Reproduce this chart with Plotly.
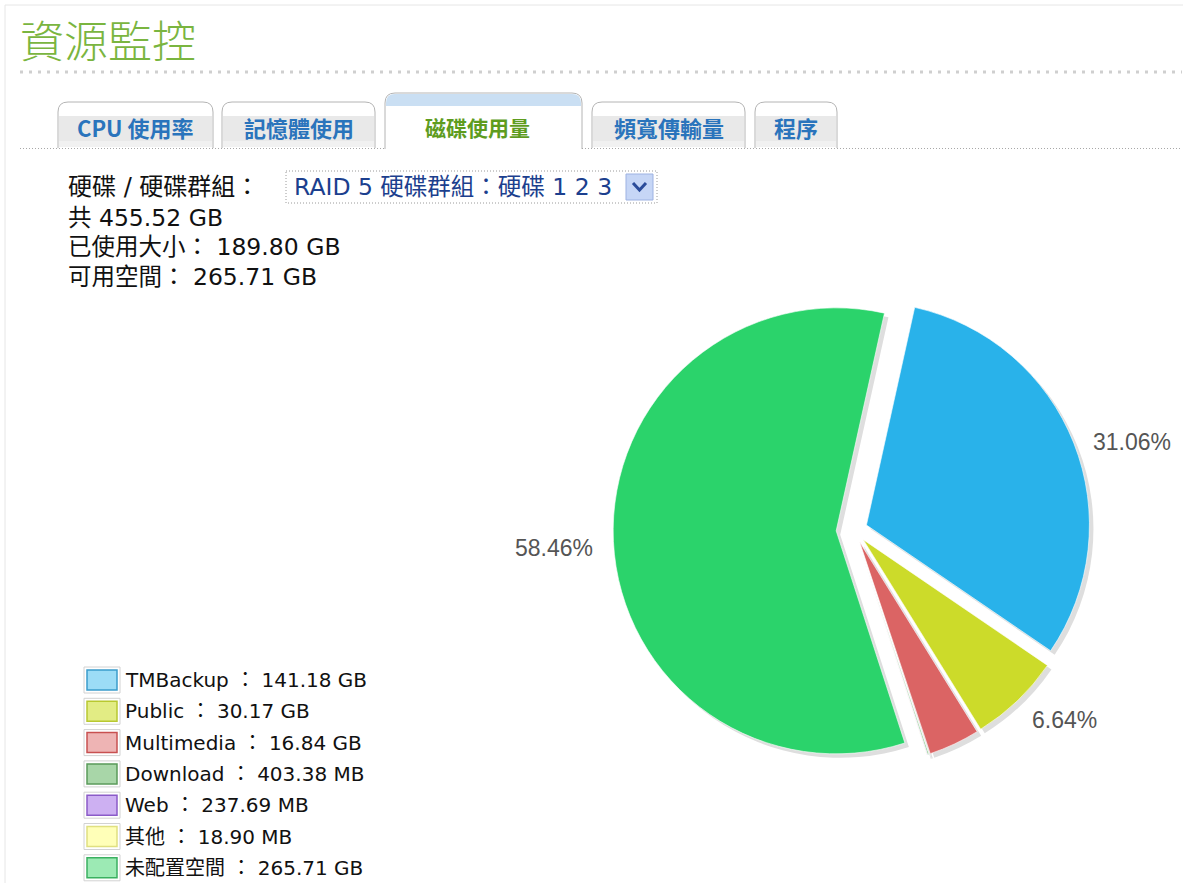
import math
import plotly.graph_objects as go

W, H = 1184, 884

# ---- data -------------------------------------------------------------
folders = ["TMBackup", "Public", "Multimedia", "Download", "Web", "其他", "未配置空間"]
sizes = [141.18, 30.17, 16.84, 403.38, 237.69, 18.90, 265.71]
units = ["GB", "GB", "GB", "MB", "MB", "MB", "GB"]

total_size = "455.52 GB"
used_size = "189.80 GB"
free_size = "265.71 GB"

tabs = ["CPU 使用率", "記憶體使用", "磁碟使用量", "頻寬傳輸量", "程序"]
active_tab = 2
volume_name = "RAID 5 硬碟群組：硬碟 1 2 3"

# ---- styles -----------------------------------------------------------
slice_colors = ["#29B2EA", "#CCDB2A", "#DB6464", "#5DBB5D", "#9B6BDB", "#F4F06A", "#2BD36B"]
swatch_fill = ["#9CDCF6", "#E2EC84", "#EEB4B4", "#A8D6A8", "#CDB0F2", "#FFFFB8", "#9CEAB4"]
swatch_edge = ["#3A9CCB", "#B8C830", "#C85050", "#5A9A5A", "#8A5AC8", "#E0E080", "#3AB060"]
pulls = [0.06, 0.06, 0.06, 0.06, 0.06, 0.06, 0.08]

BODY = "DejaVu Sans, Noto Sans CJK TC, sans-serif"
CJK = "Noto Sans CJK TC, sans-serif"


def px(x):
    return x / W


def py(y):
    return 1 - y / H


values_gb = [s / 1024 if u == "MB" else s for s, u in zip(sizes, units)]
total_gb = sum(values_gb)
shares = [v / total_gb for v in values_gb]

# pie placement (pixel centre / radius), clockwise from 12.5 deg
cx, cy, r = 854, 530, 223
start_deg = 12.5
half = r * (1 + max(pulls))
dom_x = [px(cx - half), px(cx + half)]
dom_y = [py(cy + half), py(cy - half)]
sh = 4  # drop-shadow offset

fig = go.Figure()

# soft grey drop shadow under the pie
fig.add_trace(go.Pie(
    values=values_gb, labels=folders, sort=False, direction="clockwise",
    rotation=start_deg, pull=pulls, textinfo="none", hoverinfo="skip",
    marker=dict(colors=["#DEDEDE"] * len(values_gb), line=dict(width=0)),
    domain=dict(x=[dom_x[0] + sh / W, dom_x[1] + sh / W],
                y=[dom_y[0] - sh / H, dom_y[1] - sh / H]),
    showlegend=False,
))

fig.add_trace(go.Pie(
    values=values_gb, labels=folders, sort=False, direction="clockwise",
    rotation=start_deg, pull=pulls, textinfo="none",
    hovertemplate="%{label}: %{percent:.2%}<extra></extra>",
    marker=dict(colors=slice_colors, line=dict(color="white", width=0.6)),
    domain=dict(x=dom_x, y=dom_y),
    showlegend=False,
))

shapes = []
annotations = []


def text(x, y, s, size=23, color="#111111", anchor="left", bold=False, family=BODY,
         weight=None, yshift=0):
    font = dict(family=family, size=size, color=color)
    if weight:
        font["weight"] = weight
    annotations.append(dict(
        x=px(x), y=py(y), xref="paper", yref="paper", text=f"<b>{s}</b>" if bold else s,
        showarrow=False, xanchor=anchor, yanchor="middle", font=font, yshift=yshift,
    ))


def line(x0, y0, x1, y1, color, width=1, dash="solid"):
    shapes.append(dict(type="line", xref="paper", yref="paper",
                       x0=px(x0), y0=py(y0), x1=px(x1), y1=py(y1),
                       line=dict(color=color, width=width, dash=dash)))


def rect(x0, y0, x1, y1, fill, edge=None, width=1, dash="solid"):
    shapes.append(dict(type="rect", xref="paper", yref="paper",
                       x0=px(x0), y0=py(y0), x1=px(x1), y1=py(y1),
                       fillcolor=fill,
                       line=dict(color=edge or fill, width=width if edge else 0, dash=dash)))


def tab_path(x0, x1, yt, yb, rad, closed):
    rx, ry = rad / W, rad / H
    X0, X1, YT, YB = px(x0), px(x1), py(yt), py(yb)
    p = (f"M {X0},{YB} L {X0},{YT - ry} Q {X0},{YT} {X0 + rx},{YT} "
         f"L {X1 - rx},{YT} Q {X1},{YT} {X1},{YT - ry} L {X1},{YB}")
    return p + " Z" if closed else p


# percentage labels just outside the larger slices, along each slice's bisector
acc = 0.0
for share, pull in zip(shares, pulls):
    mid = math.radians(start_deg + (acc + share / 2) * 360)
    acc += share
    if share < 0.05:
        continue
    dx, dy = math.sin(mid), -math.cos(mid)
    dist = r * (1 + pull) + 18
    lx, ly = cx + dx * dist, cy + dy * dist
    text(lx, ly + 6, f"{share * 100:.2f}%", size=23, color="#555555",
         anchor="left" if dx > 0 else "right", family="Liberation Sans, Arial")

# page frame
line(5, 5, W - 1, 5, "#E6E6E6", 1)
line(5, 5, 5, H - 1, "#E6E6E6", 1)

# heading
text(18, 39, "資源監控", size=44, color="#7AB540", family=CJK, weight=300)
line(20, 72, W - 2, 72, "#CFCFCF", 3, "3px,6px")

# tab strip
tab_x = [(58, 213), (222, 375), (385, 582), (592, 745), (755, 837)]
for i, (label, (x0, x1)) in enumerate(zip(tabs, tab_x)):
    if i == active_tab:
        yt = 93
        shapes.append(dict(type="path", xref="paper", yref="paper",
                           path=tab_path(x0, x1, yt, 149, 10, True),
                           fillcolor="white", line=dict(width=0)))
        shapes.append(dict(type="path", xref="paper", yref="paper",
                           path=tab_path(x0 + 1, x1 - 1, yt + 1, 106, 9, True),
                           fillcolor="#CADFF3", line=dict(width=0)))
        shapes.append(dict(type="path", xref="paper", yref="paper",
                           path=tab_path(x0, x1, yt, 149, 10, False),
                           fillcolor="rgba(0,0,0,0)", line=dict(color="#B4B4B4", width=1)))
        text((x0 + x1) / 2 - 6, 127, label, size=21, color="#5E9C1E", anchor="center",
             bold=True, family=CJK)
    else:
        yt = 102
        shapes.append(dict(type="path", xref="paper", yref="paper",
                           path=tab_path(x0, x1, yt, 148, 10, True),
                           fillcolor="white", line=dict(width=0)))
        rect(x0 + 1, 116, x1 - 1, 147, "#E9E9E9")
        rect(x0 + 1, 141, x1 - 1, 147, "#F1F1F1")
        shapes.append(dict(type="path", xref="paper", yref="paper",
                           path=tab_path(x0, x1, yt, 148, 10, False),
                           fillcolor="rgba(0,0,0,0)", line=dict(color="#B4B4B4", width=1)))
        text((x0 + x1) / 2, 127, label, size=22, color="#2A74BC", anchor="center",
             bold=True, family=CJK)

ax0, ax1 = tab_x[active_tab]
line(20, 148.5, ax0, 148.5, "#A8A8A8", 1, "1px,2px")
line(ax1, 148.5, W - 2, 148.5, "#A8A8A8", 1, "1px,2px")

# volume selector and summary
text(66, 187, "硬碟 / 硬碟群組：", size=24)
rect(286, 171, 657, 203, "white", "#9A9A9A", 1, "1px,2px")
text(292, 187, volume_name, size=23.5, color="#1C3F8E")
rect(626, 174, 653, 200, "#C6D6F6", "#9DB2E2", 1)
shapes.append(dict(type="path", xref="paper", yref="paper",
                   path=f"M {px(633)},{py(183)} L {px(639.5)},{py(190)} L {px(646)},{py(183)}",
                   fillcolor="rgba(0,0,0,0)", line=dict(color="#2B4C9A", width=3)))
text(66, 218, f"共 {total_size}", size=23.5)
text(66, 247, f"已使用大小： {used_size}", size=23.5)
text(66, 277, f"可用空間： {free_size}", size=23.5)

# legend
row0, row_h = 680, 31.3
for i, (name, s, u) in enumerate(zip(folders, sizes, units)):
    yc = row0 + i * row_h
    rect(84, yc - 13, 120, yc + 13, "white", "#D2D2D2", 1)
    rect(87, yc - 10, 117, yc + 10, swatch_fill[i], swatch_edge[i], 1.5)
    text(123, yc, f"{name} ： {s:.2f} {u}", size=20)

fig.update_layout(
    width=W, height=H, autosize=False,
    margin=dict(l=0, r=0, t=0, b=0),
    paper_bgcolor="white", plot_bgcolor="white",
    showlegend=False,
    shapes=shapes,
    annotations=annotations,
)

fig.write_html(
    "out.html",
    config={"responsive": False, "displayModeBar": False},
    post_script="document.documentElement.style.overflow='hidden';"
                "document.body.style.margin='0';document.body.style.overflow='hidden';",
)
